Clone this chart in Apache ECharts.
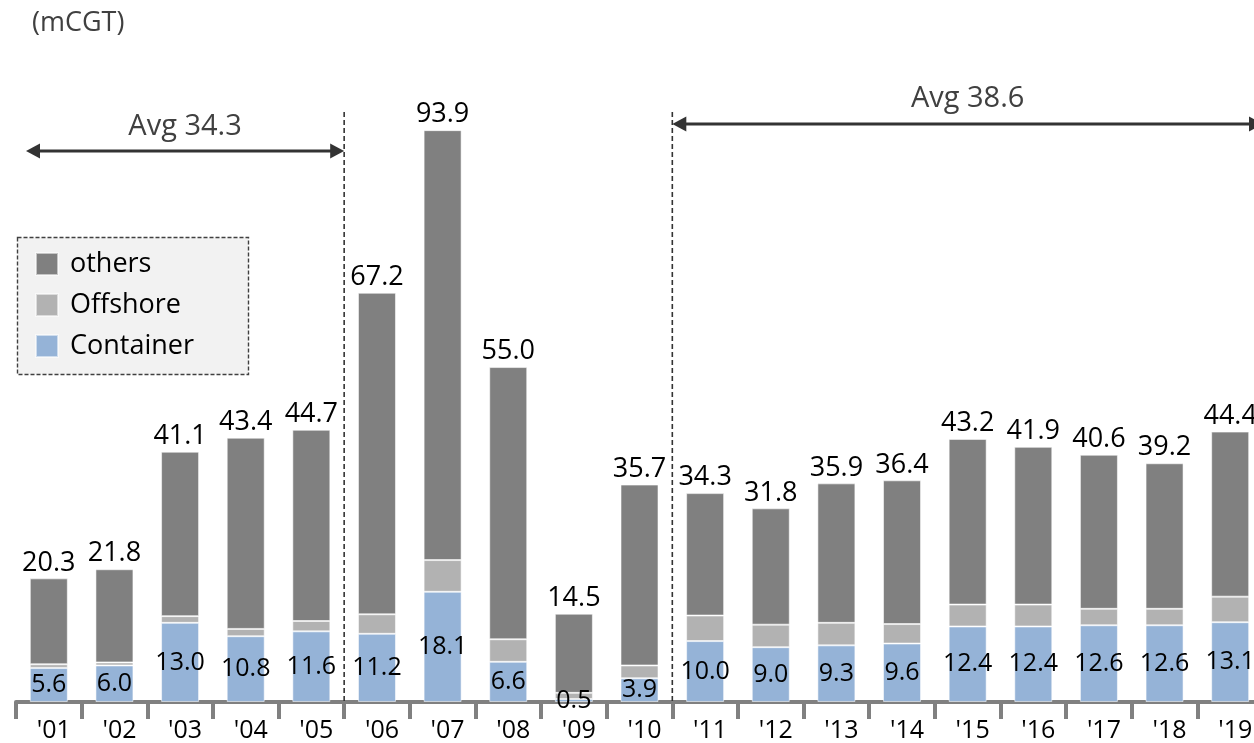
<!DOCTYPE html>
<html>
<head>
<meta charset="utf-8">
<script src="https://cdn.jsdelivr.net/npm/echarts@6/dist/echarts.min.js"></script>
<style>
  html, body { margin: 0; padding: 0; background: #ffffff; overflow: hidden; }
  /* the plot runs a little past the right edge of the window, so the last bar is cut */
  #chart { width: 1263px; height: 743px; }
</style>
</head>
<body>
<div id="chart"></div>
<script>
// Order volume by ship type, 2001-2019 (mCGT)
const years = ["'01", "'02", "'03", "'04", "'05", "'06", "'07", "'08", "'09", "'10",
               "'11", "'12", "'13", "'14", "'15", "'16", "'17", "'18", "'19"];
const container = [5.6, 6.0, 13.0, 10.8, 11.6, 11.2, 18.1, 6.6, 0.5, 3.9,
                   10.0, 9.0, 9.3, 9.6, 12.4, 12.4, 12.6, 12.6, 13.1];
const offshore  = [0.6, 0.5, 1.1, 1.2, 1.7, 3.2, 5.2, 3.7, 1.0, 2.1,
                   4.2, 3.7, 3.7, 3.2, 3.6, 3.6, 2.7, 2.7, 4.2];
const others    = [14.1, 15.3, 27.0, 31.4, 31.4, 52.8, 70.6, 44.7, 13.0, 29.7,
                   20.1, 19.1, 22.9, 23.6, 27.2, 25.9, 25.3, 23.9, 27.1];
const seriesNames = ['others', 'Offshore', 'Container'];
const unitLabel = '(mCGT)';
// Averaging periods shown as arrows above the bars
const avgPeriods = [
  { label: 'Avg 34.3', first: "'01", last: "'05" },
  { label: 'Avg 38.6', first: "'11", last: "'19" }
];

const FONT = '"Open Sans", "Noto Sans", sans-serif';
const COLORS = { others: '#808080', offshore: '#b2b2b2', container: '#95b3d7' };
const DARK = '#404040';

const total = i => container[i] + offshore[i] + others[i];

const chart = echarts.init(document.getElementById('chart'), null, { renderer: 'canvas' });

const barBorder = { borderColor: 'rgba(255,255,255,0.55)', borderWidth: 1 };

chart.setOption({
  animation: false,
  backgroundColor: '#ffffff',
  textStyle: { fontFamily: FONT },
  title: {
    text: unitLabel,
    left: 27, top: 5,
    textStyle: { fontFamily: FONT, fontSize: 27, fontWeight: 'normal', color: DARK }
  },
  legend: {
    data: seriesNames,
    orient: 'vertical',
    left: 35, top: 250,
    padding: 0,
    itemGap: 13,
    itemWidth: 22, itemHeight: 22,
    icon: 'rect',
    z: 10,
    textStyle: { fontFamily: FONT, fontSize: 27, color: '#000', lineHeight: 28, padding: [0, 0, 0, 7] }
  },
  grid: { left: 16, right: 0, top: 93, bottom: 40, containLabel: false },
  xAxis: {
    type: 'category',
    data: years,
    axisLine: { lineStyle: { color: '#808080', width: 4 } },
    axisTick: { show: true, length: 17, interval: 0, alignWithLabel: false,
                lineStyle: { color: '#808080', width: 4 } },
    axisLabel: { fontFamily: FONT, fontSize: 25, color: '#000', margin: 16,
                 interval: 0, padding: [0, 0, 0, 10] }
  },
  yAxis: { type: 'value', min: 0, max: 100, show: false, splitLine: { show: false } },
  series: [
    {
      name: 'Container', type: 'bar', stack: 'ship', barWidth: 38, data: container,
      itemStyle: Object.assign({ color: COLORS.container }, barBorder),
      label: { show: true, position: 'inside', fontFamily: FONT, fontSize: 25, color: '#000',
               formatter: p => p.value.toFixed(1) }
    },
    {
      name: 'Offshore', type: 'bar', stack: 'ship', barWidth: 38, data: offshore,
      itemStyle: Object.assign({ color: COLORS.offshore }, barBorder)
    },
    {
      name: 'others', type: 'bar', stack: 'ship', barWidth: 38, data: others,
      itemStyle: Object.assign({ color: COLORS.others }, barBorder),
      label: { show: true, position: 'top', distance: 2, fontFamily: FONT, fontSize: 27, color: '#000',
               formatter: p => total(p.dataIndex).toFixed(1) }
    }
  ]
});

// Annotation layer: legend frame, period dividers and average arrows
function drawAnnotations() {
  const cx = c => chart.convertToPixel({ xAxisIndex: 0 }, c);
  const step = cx(years[1]) - cx(years[0]);
  const leftEdge = c => cx(c) - step / 2;
  const rightEdge = c => cx(c) + step / 2;
  const baseY = chart.convertToPixel({ yAxisIndex: 0 }, 0);

  const g = [];
  g.push({
    type: 'rect', z: 1,
    shape: { x: 17.5, y: 237.5, width: 231, height: 137 },
    style: { fill: '#f2f2f2', stroke: DARK, lineWidth: 1.4, lineDash: [4, 2] }
  });

  const arrow = (x1, x2, y) => {
    const head = 14, half = 7.5;
    g.push({ type: 'line', z: 5, shape: { x1: x1 + head - 2, y1: y, x2: x2 - head + 2, y2: y },
             style: { stroke: '#333333', lineWidth: 3 } });
    g.push({ type: 'polygon', z: 5, shape: { points: [[x1, y], [x1 + head, y - half], [x1 + head, y + half]] },
             style: { fill: '#333333' } });
    g.push({ type: 'polygon', z: 5, shape: { points: [[x2, y], [x2 - head, y - half], [x2 - head, y + half]] },
             style: { fill: '#333333' } });
  };
  const divider = x => {
    g.push({ type: 'line', z: 4, shape: { x1: x, y1: 112, x2: x, y2: baseY },
             style: { stroke: '#333333', lineWidth: 1.6, lineDash: [5, 3] } });
  };
  const caption = (text, x, y) => {
    g.push({ type: 'text', z: 5, x: x, y: y,
             style: { text: text, fill: DARK, font: '29px ' + FONT, align: 'center', verticalAlign: 'middle' } });
  };

  // first period: from the start of the axis up to the '06 divider
  const p1 = avgPeriods[0];
  const a1 = leftEdge(p1.first) + 10, b1 = rightEdge(p1.last);
  divider(b1);
  arrow(a1, b1, 151);
  caption(p1.label, (a1 + b1) / 2, 127);

  // second period: from the '11 divider to the end of the axis
  const p2 = avgPeriods[1];
  const a2 = leftEdge(p2.first), b2 = rightEdge(p2.last);
  divider(a2);
  arrow(a2, b2, 124);
  caption(p2.label, (a2 + b2) / 2, 99);

  chart.setOption({ graphic: g });
}
drawAnnotations();
</script>
</body>
</html>
